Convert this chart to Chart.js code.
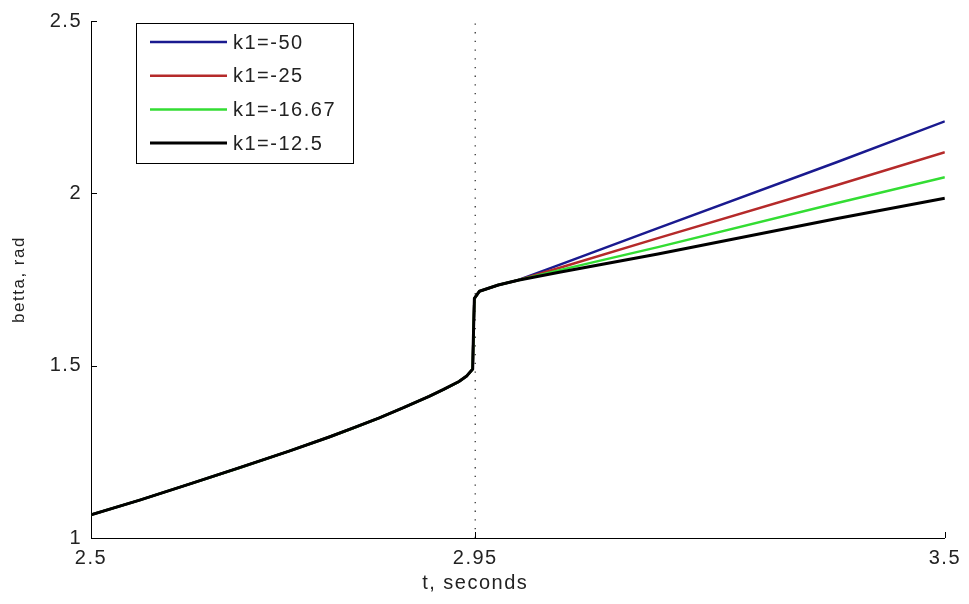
<!DOCTYPE html>
<html>
<head>
<meta charset="utf-8">
<title>betta vs t</title>
<script src="https://cdn.jsdelivr.net/npm/chart.js@4/dist/chart.umd.min.js"></script>
<style>
  html, body { margin: 0; padding: 0; background: #ffffff; }
  #wrap { width: 969px; height: 604px; }
</style>
</head>
<body>
<div id="wrap"><canvas id="c" width="969" height="604"></canvas></div>
<script>
// Shared trajectory (identical for every gain) up to the branching point
const tCommon    = [2.5, 2.557, 2.616, 2.674, 2.732, 2.779, 2.808, 2.837, 2.866, 2.896, 2.913, 2.931, 2.940, 2.947, 2.948, 2.949, 2.955, 2.977, 3.0];
const betaCommon = [1.067, 1.110, 1.157, 1.204, 1.252, 1.293, 1.320, 1.348, 1.378, 1.411, 1.431, 1.454, 1.470, 1.490, 1.600, 1.695, 1.716, 1.734, 1.748];

// Branches for each gain value
const tBranch     = [3.05, 3.164, 3.374, 3.5];
const betaK50     = [1.794, 1.899, 2.091, 2.209];
const betaK25     = [1.785, 1.870, 2.024, 2.119];
const betaK16     = [1.778, 1.844, 1.972, 2.047];
const betaK12     = [1.772, 1.824, 1.927, 1.986];

const seriesLabels = ['k1=-50', 'k1=-25', 'k1=-16.67', 'k1=-12.5'];
const seriesColors = ['#1a1a8f', '#b52a2a', '#33dd33', '#000000'];

// Switching instant (dotted marker)
const tSwitch = 2.95;

// Axis ticks
const xTicks = [2.5, 2.95, 3.5];
const xTickLabels = ['2.5', '2.95', '3.5'];
const yTicks = [1, 1.5, 2, 2.5];
const yTickLabels = ['1', '1.5', '2', '2.5'];

const FONT = 'Liberation Sans, Arial, sans-serif';
const FSIZE = 20;
const SPACING = '1.5px';

function toPoints(ts, vs) { return ts.map((t, i) => ({ x: t, y: vs[i] })); }
function series(branch) {
  return toPoints(tCommon, betaCommon).concat(toPoints(tBranch, branch));
}

const branches = [betaK50, betaK25, betaK16, betaK12];
const datasets = branches.map((b, i) => ({
  label: seriesLabels[i],
  data: series(b),
  borderColor: seriesColors[i],
  borderWidth: i === 3 ? 3 : 2.5,
  borderJoinStyle: 'round',
  pointRadius: 0,
  tension: 0,
  fill: false,
  order: 3 - i   // black drawn on top
}));
datasets.push({
  label: 'switch',
  data: [{ x: tSwitch, y: yTicks[0] }, { x: tSwitch, y: yTicks[yTicks.length - 1] }],
  borderColor: '#333333',
  borderWidth: 1.3,
  borderDash: [1.3, 7.4],
  pointRadius: 0,
  order: 10
});

// Canvas letter spacing (state is reset whenever the canvas is resized)
const spacingPlugin = {
  id: 'spacing',
  beforeUpdate(chart) { chart.ctx.letterSpacing = SPACING; },
  beforeDraw(chart) { chart.ctx.letterSpacing = SPACING; }
};

// Inward tick marks on the left and bottom axes
const tickMarks = {
  id: 'tickMarks',
  afterDatasetsDraw(chart) {
    const { ctx, chartArea: a, scales: { x, y } } = chart;
    ctx.save();
    ctx.strokeStyle = '#000';
    ctx.lineWidth = 1;
    ctx.beginPath();
    xTicks.forEach(v => {
      const px = Math.round(x.getPixelForValue(v)) + 0.5;
      ctx.moveTo(px, a.bottom); ctx.lineTo(px, a.bottom - 6);
    });
    yTicks.forEach(v => {
      const py = Math.round(y.getPixelForValue(v)) + 0.5;
      ctx.moveTo(a.left, py); ctx.lineTo(a.left + 6, py);
    });
    ctx.stroke();
    ctx.restore();
  }
};

// Boxed legend with line samples
const boxLegend = {
  id: 'boxLegend',
  afterDraw(chart) {
    const { ctx, chartArea: a } = chart;
    const left = a.left + 45, top = a.top + 2, w = 217, h = 140;
    ctx.save();
    ctx.letterSpacing = SPACING;
    ctx.fillStyle = '#fff';
    ctx.fillRect(left, top, w, h);
    ctx.strokeStyle = '#000';
    ctx.lineWidth = 1;
    ctx.strokeRect(Math.round(left) + 0.5, Math.round(top) + 0.5, w, h);
    ctx.font = FSIZE + 'px ' + FONT;
    ctx.textBaseline = 'middle';
    ctx.textAlign = 'left';
    seriesLabels.forEach((lab, i) => {
      const cy = top + 19 + i * 33.7;
      ctx.strokeStyle = seriesColors[i];
      ctx.lineWidth = i === 3 ? 3 : 2.5;
      ctx.beginPath();
      ctx.moveTo(left + 14, cy); ctx.lineTo(left + 91, cy);
      ctx.stroke();
      ctx.fillStyle = '#222';
      ctx.fillText(lab, left + 97, cy + 1);
    });
    ctx.restore();
  }
};

// x-axis title
const xTitle = {
  id: 'xTitle',
  afterDraw(chart) {
    const { ctx, chartArea: a } = chart;
    ctx.save();
    ctx.letterSpacing = SPACING;
    ctx.font = FSIZE + 'px ' + FONT;
    ctx.fillStyle = '#222';
    ctx.textAlign = 'center';
    ctx.textBaseline = 'middle';
    ctx.fillText('t, seconds', a.left + (a.right - a.left) * 0.45, 583);
    ctx.restore();
  }
};

new Chart(document.getElementById('c'), {
  type: 'line',
  data: { datasets },
  plugins: [spacingPlugin, tickMarks, boxLegend, xTitle],
  options: {
    responsive: false,
    animation: false,
    layout: { padding: { left: 0, right: 21, top: 20, bottom: 0 } },
    plugins: { legend: { display: false }, tooltip: { enabled: false } },
    scales: {
      x: {
        type: 'linear',
        min: xTicks[0], max: xTicks[xTicks.length - 1],
        afterBuildTicks(s) { s.ticks = xTicks.map(v => ({ value: v })); },
        afterFit(s) { s.height = 66; },
        grid: { display: false, drawTicks: false },
        border: { display: true, color: '#000', width: 1 },
        ticks: {
          autoSkip: false, maxRotation: 0, padding: 8,
          color: '#222',
          font: { family: FONT, size: FSIZE },
          callback(v) { const i = xTicks.indexOf(v); return i >= 0 ? xTickLabels[i] : ''; }
        }
      },
      y: {
        type: 'linear',
        min: yTicks[0], max: yTicks[yTicks.length - 1],
        afterBuildTicks(s) { s.ticks = yTicks.map(v => ({ value: v })); },
        afterFit(s) { s.width = 91; },
        grid: { display: false, drawTicks: false },
        border: { display: true, color: '#000', width: 1 },
        ticks: {
          padding: 9,
          color: '#222',
          font: { family: FONT, size: FSIZE },
          callback(v) { const i = yTicks.indexOf(v); return i >= 0 ? yTickLabels[i] : ''; }
        },
        title: {
          display: true,
          text: 'betta, rad',
          color: '#222',
          font: { family: FONT, size: 17 },
          padding: { top: 9, bottom: 0 }
        }
      }
    }
  }
});
</script>
</body>
</html>
